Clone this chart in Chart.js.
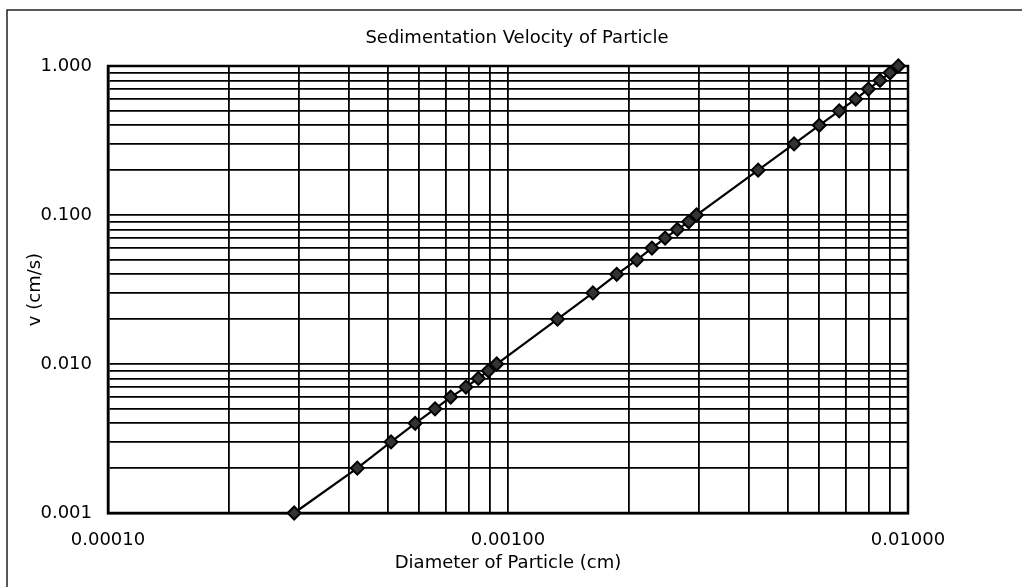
<!DOCTYPE html>
<html>
<head>
<meta charset="utf-8">
<title>Sedimentation Velocity of Particle</title>
<script src="https://cdn.jsdelivr.net/npm/chart.js@4.4.1/dist/chart.umd.min.js"></script>
<style>
  html, body { margin: 0; padding: 0; background: #fff; }
  #wrap { width: 1022px; height: 587px; }
</style>
</head>
<body>
<div id="wrap"><canvas id="velocityChart"></canvas></div>
<script>
// ---------------------------------------------------------------------------
// Data
// ---------------------------------------------------------------------------

const velocity = [
  0.001, 0.002, 0.003, 0.004, 0.005, 0.006, 0.007, 0.008, 0.009,
  0.01, 0.02, 0.03, 0.04, 0.05, 0.06, 0.07, 0.08, 0.09,
  0.1, 0.2, 0.3, 0.4, 0.5, 0.6, 0.7, 0.8, 0.9,
  1.0
];

const diameter = [
  0.000292, 0.000420, 0.000510, 0.000586, 0.000657, 0.000719, 0.000785, 0.000843, 0.000893,
  0.000937, 0.00133, 0.00163, 0.00187, 0.00210, 0.00229, 0.00247, 0.00265, 0.00283,
  0.00296, 0.00422, 0.00519, 0.00600, 0.00673, 0.00740, 0.00796, 0.00851, 0.00902,
  0.00946
];

const xDecades = [0.0001, 0.001, 0.01];
const yDecades = [0.001, 0.01, 0.1, 1];
const minorSteps = [1, 2, 3, 4, 5, 6, 7, 8, 9];

// ---------------------------------------------------------------------------
// Helpers
// ---------------------------------------------------------------------------

const FONT = { family: "'DejaVu Sans', sans-serif", size: 18, lineHeight: 1.2 };

function gridValues(decades) {
  const out = [];
  decades.forEach(function (d, i) {
    if (i === decades.length - 1) { out.push(d); return; }
    minorSteps.forEach(function (s) { out.push(+(d * s).toPrecision(6)); });
  });
  return out;
}

function isDecade(v) {
  const l = Math.log10(v);
  return Math.abs(l - Math.round(l)) < 1e-9;
}

function setTicks(values) {
  return function (scale) {
    scale.ticks = values.map(function (v) { return { value: v }; });
  };
}

// page frame (top + left rule) and heavy box round the plot area
const frame = {
  id: 'frame',
  beforeDraw(chart) {
    const ctx = chart.ctx;
    ctx.save();
    ctx.fillStyle = '#fff';
    ctx.fillRect(0, 0, chart.width, chart.height);
    ctx.strokeStyle = '#222';
    ctx.lineWidth = 1.5;
    ctx.beginPath();
    ctx.moveTo(chart.width, 10);
    ctx.lineTo(7, 10);
    ctx.lineTo(7, chart.height);
    ctx.stroke();
    ctx.restore();
  },
  beforeDatasetsDraw(chart) {
    const a = chart.chartArea;
    const ctx = chart.ctx;
    ctx.save();
    ctx.strokeStyle = '#000';
    ctx.lineWidth = 2.5;
    ctx.strokeRect(a.left, a.top, a.right - a.left, a.bottom - a.top);
    ctx.restore();
  }
};

// ---------------------------------------------------------------------------
// Chart
// ---------------------------------------------------------------------------

const points = diameter.map(function (d, i) { return { x: d, y: velocity[i] }; });

new Chart(document.getElementById('velocityChart'), {
  type: 'scatter',
  data: {
    datasets: [{
      label: 'v',
      data: points,
      showLine: true,
      clip: false,
      borderColor: '#000',
      borderWidth: 2.2,
      pointStyle: 'rectRot',
      pointRadius: 6.5,
      pointBackgroundColor: '#333',
      pointBorderColor: '#000',
      pointBorderWidth: 2
    }]
  },
  options: {
    responsive: true,
    maintainAspectRatio: false,
    animation: false,
    layout: { padding: { left: 12, right: 0, top: 0, bottom: 0 } },
    plugins: {
      legend: { display: false },
      tooltip: { enabled: false },
      title: {
        display: true,
        text: 'Sedimentation Velocity of Particle',
        color: '#000',
        font: { family: FONT.family, size: 18, weight: 'normal', lineHeight: 1.2 },
        padding: { top: 28, bottom: 16.4 }
      }
    },
    scales: {
      x: {
        type: 'logarithmic',
        position: 'bottom',
        min: 0.0001,
        max: 0.01,
        afterBuildTicks: setTicks(gridValues(xDecades)),
        afterFit: function (scale) { scale.height = 74; },
        grid: { color: '#000', lineWidth: 1.8, drawTicks: false },
        border: { display: true, color: '#000', width: 2.5 },
        ticks: {
          autoSkip: false,
          maxRotation: 0,
          padding: 17,
          color: '#000',
          font: FONT,
          callback: function (v) { return isDecade(v) ? v.toFixed(5) : ''; }
        },
        title: {
          display: true,
          text: 'Diameter of Particle (cm)',
          color: '#000',
          font: FONT,
          padding: { top: 0, bottom: 13 }
        }
      },
      y: {
        type: 'logarithmic',
        position: 'left',
        min: 0.001,
        max: 1,
        afterBuildTicks: setTicks(gridValues(yDecades)),
        afterFit: function (scale) { scale.width = 96; },
        grid: { color: '#000', lineWidth: 1.8, drawTicks: false },
        border: { display: true, color: '#000', width: 2.5 },
        ticks: {
          autoSkip: false,
          padding: 16,
          color: '#000',
          font: FONT,
          callback: function (v) { return isDecade(v) ? v.toFixed(3) : ''; }
        },
        title: {
          display: true,
          text: 'v (cm/s)',
          color: '#000',
          font: FONT,
          padding: { top: 13, bottom: 0 }
        }
      },
      yRight: {
        type: 'linear',
        position: 'right',
        display: true,
        grid: { display: false, drawTicks: false },
        border: { display: false },
        ticks: { display: false },
        afterFit: function (scale) { scale.width = 114; }
      }
    }
  },
  plugins: [frame]
});
</script>
</body>
</html>
